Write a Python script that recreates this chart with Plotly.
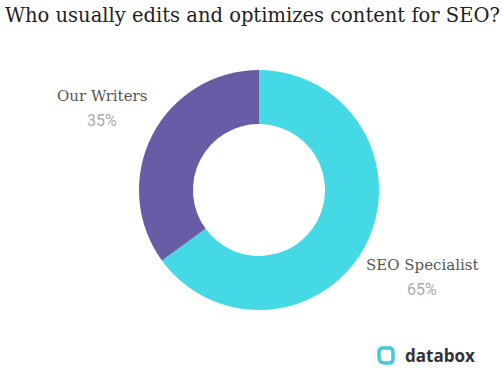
import plotly.graph_objects as go

title_text = "Who usually edits and optimizes content for SEO?"
categories = ["SEO Specialist", "Our Writers"]
values = [65, 35]
colors = ["#45D9E6", "#675DA6"]
pct_labels = ["65%", "35%"]

W, H = 502, 370

fig = go.Figure()
fig.add_trace(go.Pie(
    labels=categories,
    values=values,
    marker=dict(colors=colors, line=dict(width=0)),
    hole=0.55,
    sort=False,
    direction="clockwise",
    rotation=0,
    textinfo="none",
    hoverinfo="label+percent",
    showlegend=False,
    domain=dict(x=[139 / W, 379 / W], y=[(H - 310) / H, (H - 70) / H]),
))

# label positions (paper coords) for each category
label_pos = {"SEO Specialist": (422, 265, 289), "Our Writers": (102, 96, 120)}
for cat, pct in zip(categories, pct_labels):
    x, y1, y2 = label_pos[cat]
    fig.add_annotation(x=x / W, y=1 - y1 / H, xref="paper", yref="paper",
                       text=cat, showarrow=False, xanchor="center", yanchor="middle",
                       font=dict(family="DejaVu Serif", size=15, color="#555555"))
    fig.add_annotation(x=x / W, y=1 - y2 / H, xref="paper", yref="paper",
                       text=pct, showarrow=False, xanchor="center", yanchor="middle",
                       font=dict(family="Roboto", size=16, color="#AAAAAA"))

# title
fig.add_annotation(x=3 / W, y=1 - 15 / H, xref="paper", yref="paper",
                   text=title_text, showarrow=False, xanchor="left", yanchor="middle",
                   font=dict(family="DejaVu Serif", size=19.5, color="#222222"))

# databox logo
fig.add_shape(type="path", xref="paper", yref="paper",
              path=(f"M {379/W} {1-352/H} Q {379/W} {1-348/H} {383/W} {1-348/H} "
                    f"L {389/W} {1-348/H} Q {393/W} {1-348/H} {393/W} {1-352/H} "
                    f"L {393/W} {1-359/H} Q {393/W} {1-363/H} {389/W} {1-363/H} "
                    f"L {385/W} {1-363/H} Q {379/W} {1-363/H} {379/W} {1-357/H} Z"),
              line=dict(color="#45C8D8", width=3.5), fillcolor="rgba(0,0,0,0)")
fig.add_annotation(x=403 / W, y=1 - 355 / H, xref="paper", yref="paper",
                   text="<b>databox</b>", showarrow=False, xanchor="left", yanchor="middle",
                   font=dict(family="Open Sans", size=17, color="#333333"))

fig.update_layout(width=W, height=H, margin=dict(l=0, r=0, t=0, b=0),
                  paper_bgcolor="white", plot_bgcolor="white")
fig.write_html("out.html", config={"displayModeBar": False},
               post_script="document.body.style.margin='0';document.body.style.overflow='hidden';")
